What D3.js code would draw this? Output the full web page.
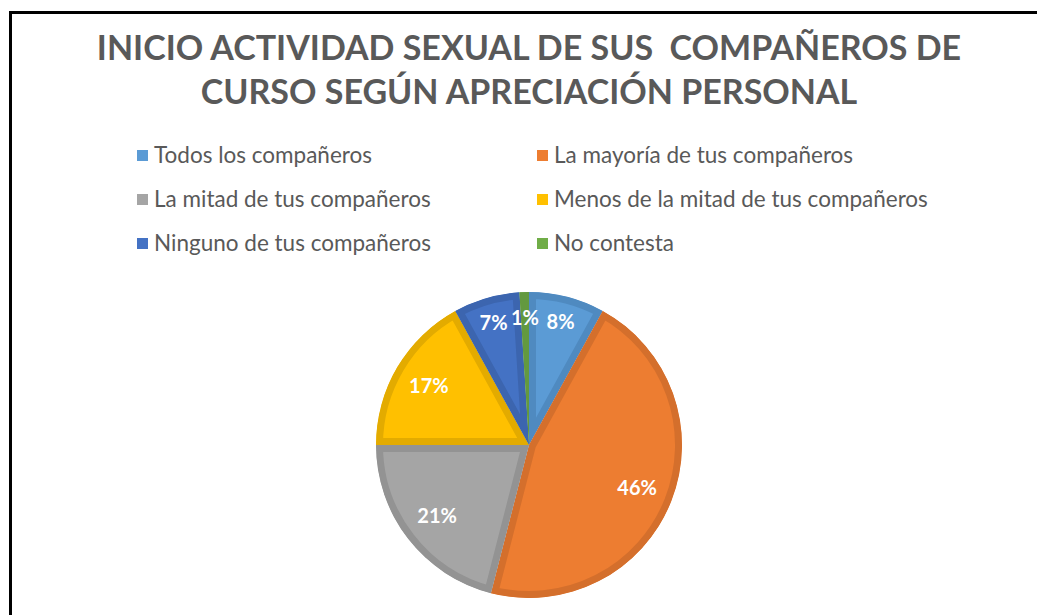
<!DOCTYPE html>
<html>
<head>
<meta charset="utf-8">
<script src="https://cdn.jsdelivr.net/npm/d3@7"></script>
<style>
  html, body { margin: 0; padding: 0; background: #fff; }
  svg { display: block; }
  text { font-family: Lato, "Open Sans", sans-serif; }
</style>
</head>
<body>
<div id="chart"></div>
<script>
// Chart data
var titleLines = ["INICIO ACTIVIDAD SEXUAL DE SUS  COMPAÑEROS DE", "CURSO SEGÚN APRECIACIÓN PERSONAL"];
var categories = ["Todos los compañeros", "La mayoría de tus compañeros", "La mitad de tus compañeros",
                  "Menos de la mitad de tus compañeros", "Ninguno de tus compañeros", "No contesta"];
var values = [8, 46, 21, 17, 7, 1];
var labels = ["8%", "46%", "21%", "17%", "7%", "1%"];

var fills   = ["#5B9BD5", "#ED7D31", "#A5A5A5", "#FFC000", "#4472C4", "#70AD47"];
var borders = ["#4F8AC0", "#D46F2C", "#939393", "#E3AB00", "#3C65AF", "#63993F"];

var width = 1037, height = 615;
var cx = 529, cy = 445, radius = 153;

var svg = d3.select("#chart").append("svg")
    .attr("width", width)
    .attr("height", height);

// frame (only left and top edges visible)
svg.append("path")
    .attr("d", "M10.5," + height + "V12.5H" + width)
    .attr("fill", "none")
    .attr("stroke", "#000")
    .attr("stroke-width", 3);

// title
svg.append("g").selectAll("text")
    .data(titleLines)
    .enter().append("text")
    .attr("x", cx)
    .attr("y", function(d, i) { return 60 + i * 44; })
    .attr("text-anchor", "middle")
    .style("white-space", "pre")
    .attr("fill", "#595959")
    .attr("font-weight", "bold")
    .attr("font-size", 34)
    .text(function(d) { return d; });

// legend, 2 columns
var legend = svg.append("g").selectAll("g")
    .data(categories)
    .enter().append("g")
    .attr("transform", function(d, i) {
        return "translate(" + (137 + (i % 2) * 400) + "," + (155 + Math.floor(i / 2) * 44) + ")";
    });

legend.append("rect")
    .attr("x", 0).attr("y", -5)
    .attr("width", 11).attr("height", 11)
    .attr("fill", function(d, i) { return fills[i]; });

legend.append("text")
    .attr("x", 17)
    .attr("dy", "0.35em")
    .attr("fill", "#595959")
    .attr("font-size", 22.5)
    .text(function(d) { return d; });

// pie
var pie = d3.pie().sort(null).value(function(d) { return d; });
var arcs = pie(values);

var arc = d3.arc().innerRadius(0).outerRadius(radius);

var g = svg.append("g").attr("transform", "translate(" + cx + "," + cy + ")");

var defs = svg.append("defs");
defs.selectAll("clipPath")
    .data(arcs)
    .enter().append("clipPath")
    .attr("id", function(d, i) { return "clip" + i; })
    .append("path")
    .attr("d", arc);

g.selectAll("path.slice")
    .data(arcs)
    .enter().append("path")
    .attr("class", "slice")
    .attr("d", arc)
    .attr("fill", function(d, i) { return fills[i]; })
    .attr("stroke", function(d, i) { return borders[i]; })
    .attr("stroke-width", 14)
    .attr("stroke-linejoin", "round")
    .attr("clip-path", function(d, i) { return "url(#clip" + i + ")"; });

// data labels (small slices placed further out)
g.selectAll("text")
    .data(arcs)
    .enter().append("text")
    .attr("transform", function(d) {
        var share = (d.endAngle - d.startAngle) / (2 * Math.PI);
        var r = share < 0.1 ? radius * 0.83 : radius * 0.76;
        var c = d3.arc().innerRadius(r).outerRadius(r).centroid(d);
        return "translate(" + c[0] + "," + c[1] + ")";
    })
    .attr("text-anchor", "middle")
    .attr("dy", "0.35em")
    .attr("fill", "#fff")
    .attr("font-weight", "bold")
    .attr("font-size", 20)
    .text(function(d, i) { return labels[i]; });
</script>
</body>
</html>
